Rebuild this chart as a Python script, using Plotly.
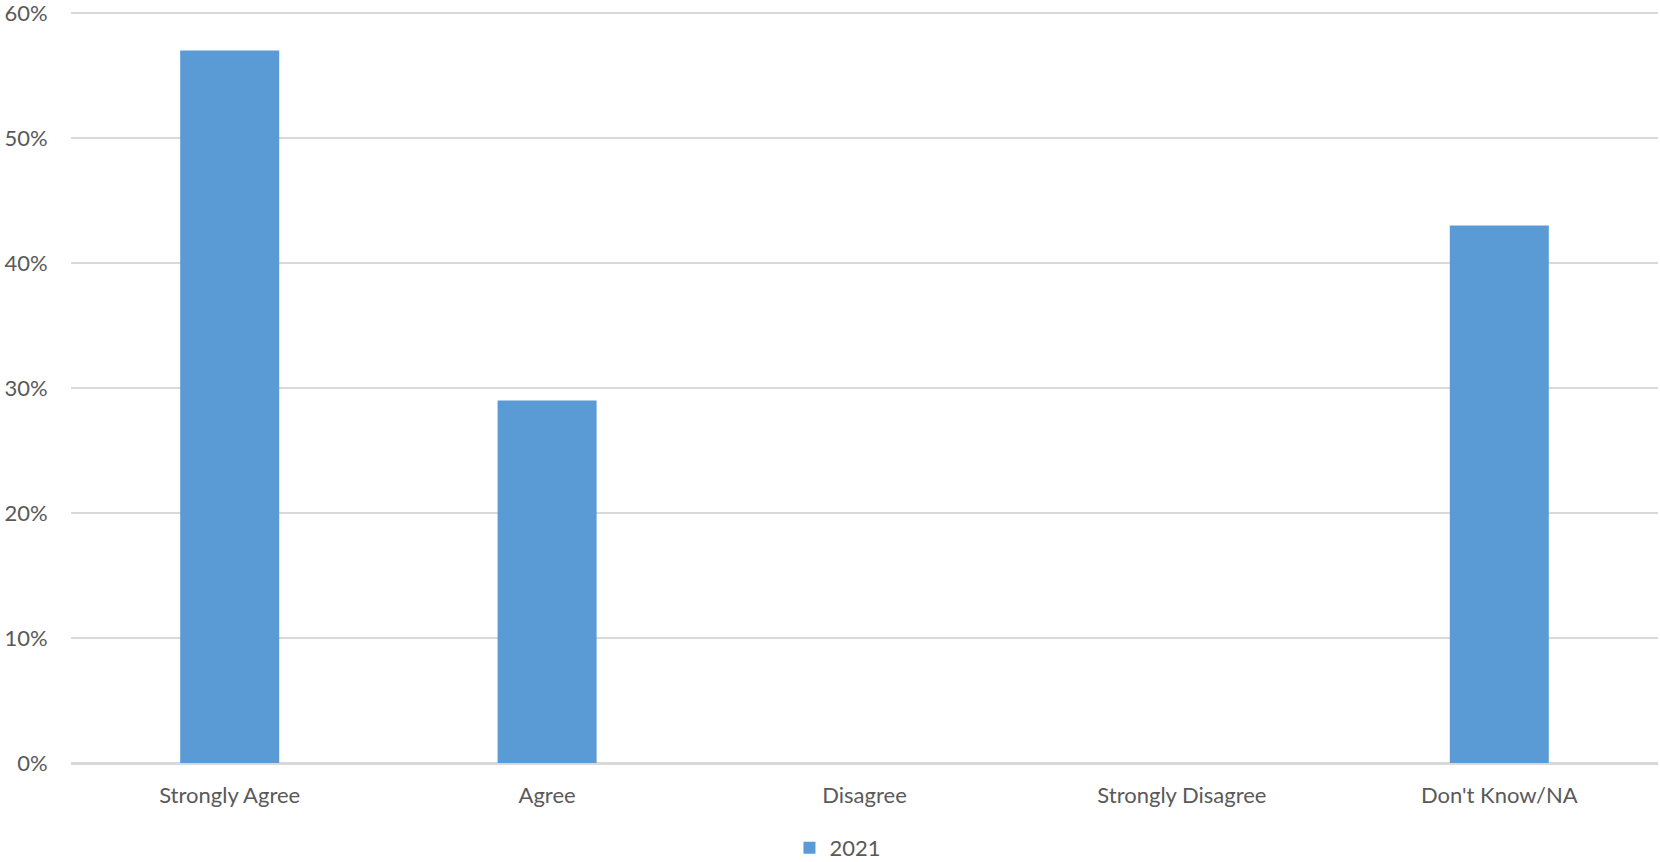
import plotly.graph_objects as go

categories = ["Strongly Agree", "Agree", "Disagree", "Strongly Disagree", "Don't Know/NA"]
values_2021 = [0.57, 0.29, 0.0, 0.0, 0.43]
series_name = "2021"
y_ticks = [0, 0.1, 0.2, 0.3, 0.4, 0.5, 0.6]

FONT = "Lato, Calibri, Carlito, sans-serif"
TXT = "#595959"
GRID = "#d9d9d9"

fig = go.Figure()
fig.add_trace(go.Bar(
    x=categories, y=values_2021, name=series_name,
    marker=dict(color="#5b9bd5", line=dict(width=0)),
))

fig.update_layout(
    width=1660, height=862,
    margin=dict(l=71, r=2, t=11, b=99),
    paper_bgcolor="white", plot_bgcolor="white",
    bargap=0.688,
    showlegend=True,
    font=dict(family=FONT, size=22, color=TXT),
    legend=dict(orientation="h", xref="container", yref="container",
                x=0.5048, xanchor="center", y=0.0162, yanchor="middle",
                font=dict(family=FONT, size=22, color=TXT), itemwidth=30),
    xaxis=dict(showgrid=False, showline=True, linecolor=GRID, linewidth=2,
               tickfont=dict(family=FONT, size=22, color=TXT),
               ticks="outside", ticklen=12, tickcolor="rgba(0,0,0,0)",
               automargin=False),
    yaxis=dict(range=[0, 0.6015], tickvals=y_ticks, tickformat=".0%",
               showgrid=True, gridcolor=GRID, gridwidth=2,
               zeroline=True, zerolinecolor=GRID, zerolinewidth=2,
               showline=False,
               ticks="outside", ticklen=18, tickcolor="rgba(0,0,0,0)",
               tickfont=dict(family=FONT, size=22, color=TXT),
               ticklabeloverflow="allow",
               automargin=False),
)

fig.write_html("out.html", config={"displayModeBar": False},
               post_script="document.body.style.margin='0';")
